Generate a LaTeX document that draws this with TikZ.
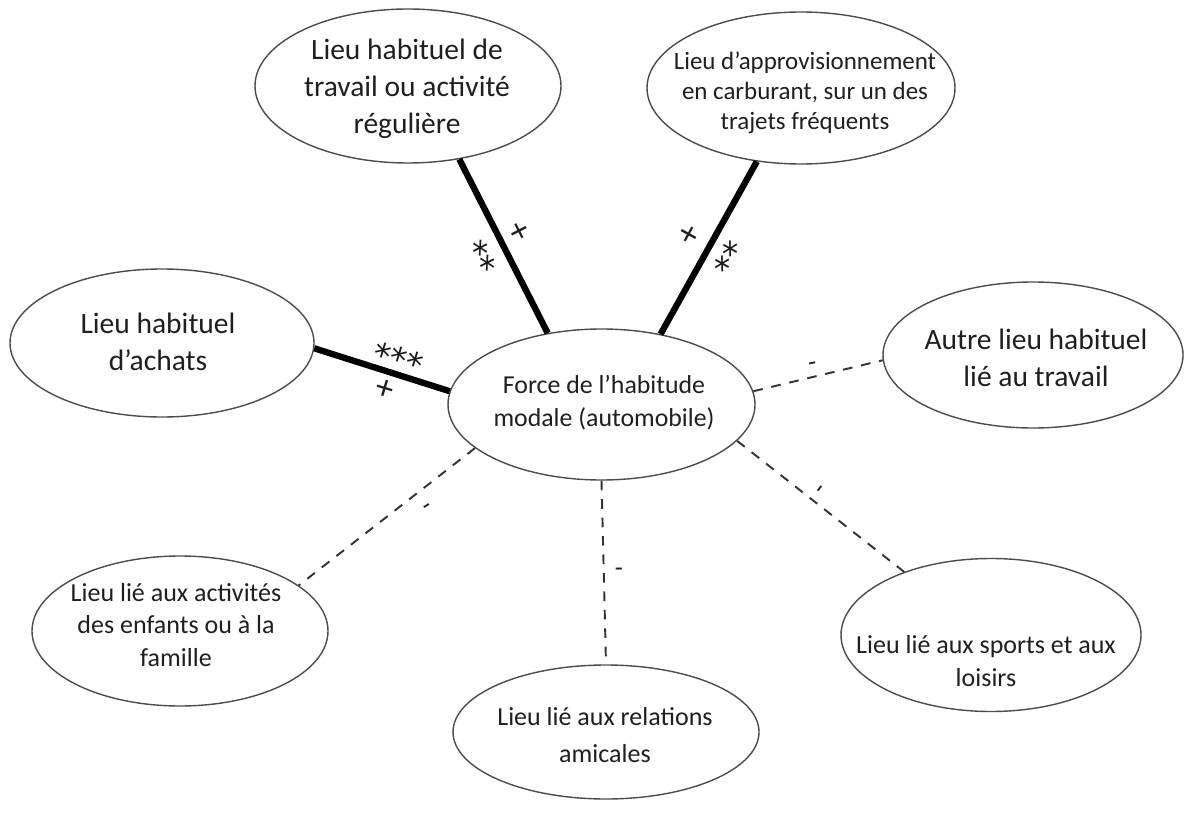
\documentclass[tikz,border=0pt]{standalone}
\usepackage{fontspec}
\setmainfont{Carlito}
\newfontfamily\astfont{DejaVu Sans}
\usetikzlibrary{shapes.geometric}
\newcommand{\astbox}[1]{\raisebox{-0.32em}[0.45em][0pt]{#1}}
\tikzset{
  place/.style={draw=black!70, line width=0.8pt, ellipse, inner sep=0pt, fill=white},
  bigtxt/.style={align=center, font=\fontsize{16.8}{21}\selectfont, text=black!88},
  midtxt/.style={align=center, font=\fontsize{14.7}{18.8}\selectfont, text=black!88},
  smalltxt/.style={align=center, font=\fontsize{14.2}{17}\selectfont, text=black!88},
  btxt/.style={align=center, font=\fontsize{14.8}{18.6}\selectfont, text=black!88},
  strong/.style={line width=3.6pt, black},
  weak/.style={line width=1.1pt, black!80, dash pattern=on 5.5pt off 5pt},
  sig/.style={font=\fontsize{15}{15}\selectfont, inner sep=0pt, text=black!88},
  bigsig/.style={font=\fontsize{20}{20}\selectfont, inner sep=0pt, text=black!88},
  astsig/.style={font=\astfont\fontsize{19}{19}\selectfont, inner sep=0pt, text=black!90}
}
\begin{document}
\begin{tikzpicture}
\useasboundingbox (0,0) rectangle (23.68,-16.26);
% ellipses
\node[place, minimum width=6.12cm, minimum height=3.08cm] (work) at (8.16,-1.72) {};
\node[place, minimum width=6.16cm, minimum height=3.04cm] (fuel) at (16.02,-1.76) {};
\node[place, minimum width=6.08cm, minimum height=2.96cm] (achats) at (3.24,-6.86) {};
\node[place, minimum width=6.14cm, minimum height=3.02cm] (center) at (12.03,-8.09) {};
\node[place, minimum width=6.00cm, minimum height=2.92cm] (autre) at (20.66,-7.10) {};
\node[place, minimum width=5.92cm, minimum height=3.00cm] (enfants) at (3.60,-12.62) {};
\node[place, minimum width=6.12cm, minimum height=2.68cm] (amicales) at (12.12,-14.64) {};
\node[place, minimum width=6.00cm, minimum height=3.06cm] (sports) at (19.82,-12.70) {};
% texts
\node[bigtxt] (workT) at (8.14,-1.78) {Lieu habituel de\\travail ou activité\\régulière};
\node[smalltxt] (fuelT) at (16.10,-1.86) {Lieu d'approvisionnement\\en carburant, sur un des\\trajets fréquents};
\node[bigtxt] (achatsT) at (3.16,-6.84) {Lieu habituel\\d'achats};
\node[midtxt] (centerT) at (12.08,-8.06) {Force de l'habitude\\modale (automobile)};
\node[bigtxt] (autreT) at (20.72,-7.16) {Autre lieu habituel\\lié au travail};
\node[btxt] (enfantsT) at (3.52,-12.50) {Lieu lié aux activités\\des enfants ou à la\\famille};
\node[btxt, font=\fontsize{14.8}{21}\selectfont] (amicalesT) at (12.10,-14.70) {Lieu lié aux relations\\amicales};
\node[btxt] (sportsT) at (19.72,-13.22) {Lieu lié aux sports et aux\\loisirs};
% connectors
\draw[strong] (work.-55) -- (center.127);
\draw[strong] (fuel.-121.5) -- (center.50.2);
\draw[strong] (achats.-2.6) -- (center.175.2);
\draw[weak] (center.5.8) -- (autre.182.7);
\draw[weak] (center.199.4) -- (enfants.21.9);
\draw[weak] (center.270) -- (amicales.90);
\draw[weak] (center.-15.9) -- (sports.144.7);
% labels
\node[bigsig, rotate=-63] (m1) at (10.36,-4.64) {+};
\node[astsig, rotate=-63] (m2) at (9.70,-5.10) {\astbox{**}};
\node[bigsig, rotate=61] (m3) at (13.80,-4.70) {+};
\node[astsig, rotate=61] (m4) at (14.52,-5.12) {\astbox{**}};
\node[astsig, rotate=-17] (m5) at (8.00,-7.08) {\astbox{***}};
\node[bigsig, rotate=-17] (m6) at (7.70,-7.80) {+};
\node[sig, rotate=12] (m7) at (16.26,-7.34) {-};
\node[sig, rotate=33] (m8) at (8.58,-10.18) {-};
\node[sig] (m9) at (12.38,-11.44) {-};
\node[sig, rotate=53] (m10) at (16.46,-9.82) {-};
\end{tikzpicture}
\end{document}
